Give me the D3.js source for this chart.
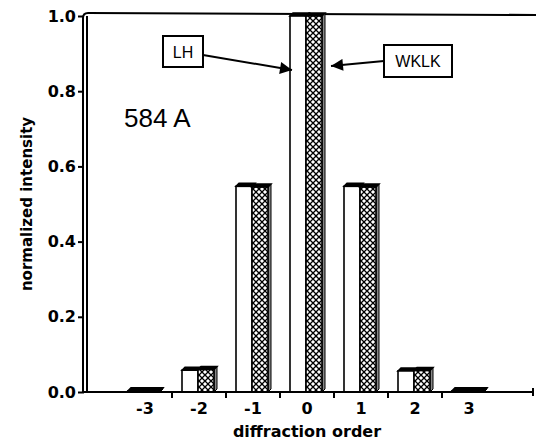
<!DOCTYPE html>
<html><head><meta charset="utf-8">
<script src="https://cdn.jsdelivr.net/npm/d3@7"></script>
<style>body{margin:0;background:#fff}svg{display:block}text{font-family:"DejaVu Sans",sans-serif;font-weight:bold}</style>
</head><body>
<script>
const orders = [-3,-2,-1,0,1,2,3];
const seriesNames = ["LH","WKLK"];
const lhValues   = [0.003,0.058,0.547,1.0,0.547,0.056,0.003];
const wklkValues = [0.003,0.060,0.545,1.0,0.545,0.057,0.003];
const yTicks = [0,0.2,0.4,0.6,0.8,1.0];

const W=536,H=444;
const svg=d3.select("body").append("svg").attr("width",W).attr("height",H);
const defs=svg.append("defs");
const pat=defs.append("pattern").attr("id","hatch").attr("patternUnits","userSpaceOnUse")
  .attr("width",6).attr("height",6);
pat.append("rect").attr("width",6).attr("height",6).attr("fill","#fff");
pat.append("path").attr("d","M0,0L6,6M6,0L0,6").attr("stroke","#000").attr("stroke-width",1.3);

const x=d3.scaleBand().domain(orders).range([118,496]);
const x1=d3.scaleBand().domain(seriesNames).range([x.bandwidth()/2-17,x.bandwidth()/2+15]);
const y=d3.scaleLinear().domain([0,1]).range([392,16]);

// frame
svg.append("path").attr("d","M83,392L83,18Q83,13 88,13L536,15").attr("fill","none").attr("stroke","#000").attr("stroke-width",2);
svg.append("line").attr("x1",87).attr("x2",87).attr("y1",16).attr("y2",392).attr("stroke","#000").attr("stroke-width",2);

// y axis ticks
const ya=svg.append("g").attr("transform","translate(84,0)")
  .call(d3.axisLeft(y).tickValues(yTicks).tickFormat(d3.format(".1f")).tickSize(6).tickPadding(2));
ya.select(".domain").remove();
ya.selectAll("line").attr("stroke-width",2);
ya.selectAll("text").style("font-size","16px").attr("fill","#000");

// bars
const data=orders.map((o,i)=>({o,vals:[{s:"LH",v:lhValues[i]},{s:"WKLK",v:wklkValues[i]}]}));
const g=svg.append("g");
const grp=g.selectAll("g").data(data).join("g").attr("transform",d=>`translate(${x(d.o)},0)`);
const d3o=3;
grp.selectAll("g").data(d=>d.vals).join("g").each(function(d){
  const s=d3.select(this);
  const bx=x1(d.s), bw=x1.bandwidth(), top=y(d.v), h=y(0)-top;
  s.append("path").attr("d",`M${bx+bw},${top}L${bx+bw+d3o},${top-d3o}L${bx+bw+d3o},${y(0)-d3o}L${bx+bw},${y(0)}Z`)
    .attr("fill","#888").attr("stroke","#000").attr("stroke-width",1);
  s.append("path").attr("d",`M${bx},${top}L${bx+d3o},${top-d3o}L${bx+bw+d3o},${top-d3o}L${bx+bw},${top}Z`)
    .attr("fill","#000").attr("stroke","#000").attr("stroke-width",1.5);
  s.append("rect").attr("x",bx).attr("y",top).attr("width",bw).attr("height",h)
    .attr("fill",d.s==="LH"?"#fff":"url(#hatch)").attr("stroke","#000").attr("stroke-width",1.6);
});

// x axis line
svg.append("line").attr("x1",84).attr("x2",533).attr("y1",392).attr("y2",392).attr("stroke","#000").attr("stroke-width",2);
svg.append("line").attr("x1",533).attr("x2",533).attr("y1",388).attr("y2",396).attr("stroke","#000").attr("stroke-width",2);
svg.append("g").selectAll("line").data(orders.slice(1)).join("line")
  .attr("x1",d=>x(d)).attr("x2",d=>x(d)).attr("y1",392).attr("y2",398).attr("stroke","#000").attr("stroke-width",2);
const xa=svg.append("g").attr("transform","translate(0,392)").call(d3.axisBottom(x).tickSize(0).tickPadding(11));
xa.select(".domain").remove();
xa.selectAll("text").style("font-size","16px").attr("fill","#000");

// titles
svg.append("text").attr("x",307).attr("y",437).attr("text-anchor","middle").style("font-size","16px").text("diffraction order");
svg.append("text").attr("transform","translate(32,204) rotate(-90)").attr("text-anchor","middle").style("font-size","15px").text("normalized intensity");
svg.append("text").attr("x",124).attr("y",127).style("font-family","'Liberation Sans',Arial,sans-serif").style("font-size","26px").style("font-weight","normal").text("584 A");

// legend boxes
function box(bx,by,bw,bh,label){
  svg.append("rect").attr("x",bx).attr("y",by).attr("width",bw).attr("height",bh).attr("fill","#fff").attr("stroke","#000").attr("stroke-width",2);
  svg.append("text").attr("x",bx+bw/2).attr("y",by+bh/2+6).attr("text-anchor","middle")
    .style("font-family","'Liberation Sans',Arial,sans-serif").style("font-size","16px").style("font-weight","normal").text(label);
}
box(163,36,40,31,"LH");
box(384,45,68,32,"WKLK");
defs.append("marker").attr("id","arr").attr("viewBox","0 0 10 10").attr("refX",10).attr("refY",5)
  .attr("markerWidth",22).attr("markerHeight",12).attr("markerUnits","userSpaceOnUse").attr("orient","auto")
  .append("path").attr("d","M0,0L10,5L0,10Z");
svg.append("line").attr("x1",203).attr("y1",55).attr("x2",292).attr("y2",70).attr("stroke","#000").attr("stroke-width",2).attr("marker-end","url(#arr)");
svg.append("line").attr("x1",384).attr("y1",61).attr("x2",331).attr("y2",66).attr("stroke","#000").attr("stroke-width",2).attr("marker-end","url(#arr)");
</script>
</body></html>
